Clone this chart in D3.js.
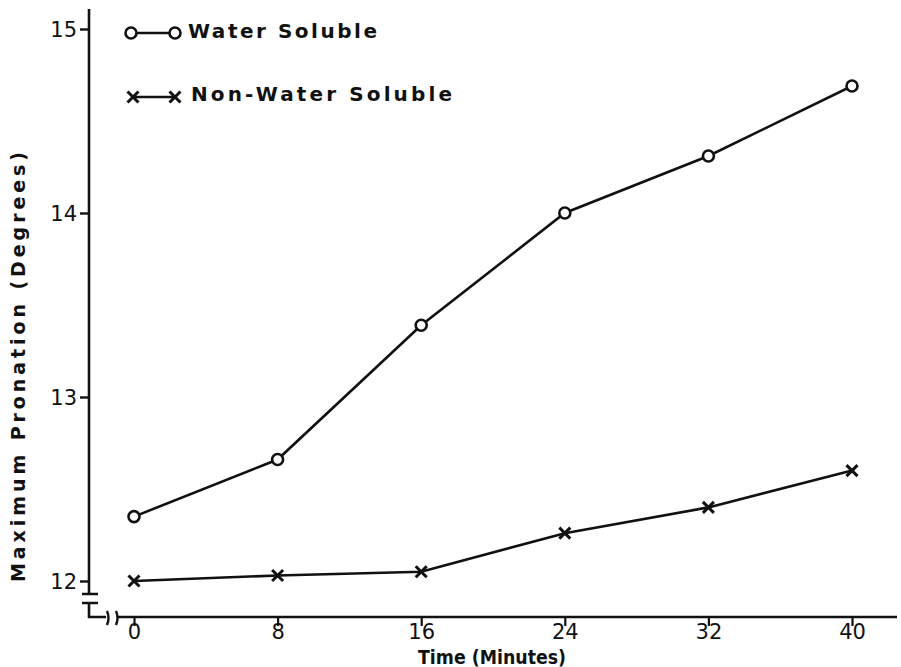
<!DOCTYPE html>
<html>
<head>
<meta charset="utf-8">
<script src="https://cdn.jsdelivr.net/npm/d3@7"></script>
<style>
body { margin: 0; background: #fff; }
svg text { font-family: "DejaVu Sans", Lato, sans-serif; font-weight: 700; fill: #111; }
svg .tick text { font-weight: 400; }
</style>
</head>
<body>
<div id="graphe"></div>
<script>
var temps = [0, 8, 16, 24, 32, 40];
var solubleEau = [12.35, 12.66, 13.39, 14.0, 14.31, 14.69];
var nonSolubleEau = [12.0, 12.03, 12.05, 12.26, 12.4, 12.6];
var ticksY = [12, 13, 14, 15];
var series = ["Water Soluble", "Non-Water Soluble"];

var largeur = 901, hauteur = 667;
var encre = "#111";

var svg = d3.select("#graphe").append("svg").attr("width", largeur).attr("height", hauteur);

var x = d3.scaleLinear().domain([0, 40]).range([134, 852]);
var y = d3.scaleLinear().domain([12, 15]).range([581, 29]);

var axeX = 89, baseY = 617;

// axe vertical avec coupure
svg.append("path")
    .attr("d", "M" + axeX + ",9 L" + axeX + ",594 M" + axeX + ",603 L" + axeX + "," + baseY + " L106," + baseY)
    .attr("fill", "none").attr("stroke", encre).attr("stroke-width", 2.6);
svg.append("path")
    .attr("d", "M82,594 L98,594 M82,603 L98,603")
    .attr("stroke", encre).attr("stroke-width", 2.4);
// coupure de l'axe horizontal
svg.append("path")
    .attr("d", "M107,611 Q110,618 107,625 M116,611 Q119,618 116,625")
    .attr("fill", "none").attr("stroke", encre).attr("stroke-width", 2.4);
svg.append("line")
    .attr("x1", 118).attr("x2", 897).attr("y1", baseY).attr("y2", baseY)
    .attr("stroke", encre).attr("stroke-width", 2.6);

// graduations
var gY = svg.append("g").attr("transform", "translate(" + axeX + ",0)")
    .call(d3.axisLeft(y).tickValues(ticksY).tickSize(9).tickPadding(3).tickFormat(d3.format("d")));
gY.select(".domain").remove();
gY.selectAll("line").attr("stroke", encre).attr("stroke-width", 2.4);
gY.selectAll("text").attr("font-size", 21).attr("fill", encre).attr("dy", "0.36em");

var gX = svg.append("g").attr("transform", "translate(0," + baseY + ")")
    .call(d3.axisBottom(x).tickValues(temps).tickSize(9).tickPadding(1).tickFormat(d3.format("d")));
gX.select(".domain").remove();
gX.selectAll("line").attr("stroke", encre).attr("stroke-width", 2.2);
gX.selectAll("text").attr("font-size", 21).attr("fill", encre).attr("dy", "0.55em");

// titres des axes
svg.append("text")
    .attr("transform", "translate(25,367) rotate(-90)")
    .attr("text-anchor", "middle").attr("font-size", 19)
    .attr("textLength", 430).attr("lengthAdjust", "spacing")
    .text("Maximum Pronation (Degrees)");
svg.append("text")
    .attr("x", 418).attr("y", 664).attr("font-size", 19)
    .attr("textLength", 148).attr("lengthAdjust", "spacingAndGlyphs")
    .text("Time (Minutes)");

// courbes
var ligne = d3.line().x(function(d, i) { return x(temps[i]); }).y(function(d) { return y(d); });

svg.append("path").datum(solubleEau).attr("d", ligne)
    .attr("fill", "none").attr("stroke", encre).attr("stroke-width", 2.6);
svg.append("path").datum(nonSolubleEau).attr("d", ligne)
    .attr("fill", "none").attr("stroke", encre).attr("stroke-width", 2.6);

function rond(g, cx, cy) {
    g.append("circle").attr("cx", cx).attr("cy", cy).attr("r", 5.5)
        .attr("fill", "#fff").attr("stroke", encre).attr("stroke-width", 2.6);
}
function croix(g, cx, cy) {
    var s = 5.5;
    g.append("path")
        .attr("d", "M" + (cx - s) + "," + (cy - s) + " L" + (cx + s) + "," + (cy + s) +
                   " M" + (cx - s) + "," + (cy + s) + " L" + (cx + s) + "," + (cy - s))
        .attr("stroke", encre).attr("stroke-width", 3);
}

solubleEau.forEach(function(v, i) { rond(svg, x(temps[i]), y(v)); });
nonSolubleEau.forEach(function(v, i) { croix(svg, x(temps[i]), y(v)); });

// légende
svg.append("line").attr("x1", 131).attr("x2", 175).attr("y1", 33).attr("y2", 33)
    .attr("stroke", encre).attr("stroke-width", 2.4);
rond(svg, 131, 33);
rond(svg, 175, 33);
svg.append("text").attr("x", 188).attr("y", 38).attr("font-size", 20)
    .attr("textLength", 189).attr("lengthAdjust", "spacing").text(series[0]);

svg.append("line").attr("x1", 133).attr("x2", 175).attr("y1", 97).attr("y2", 97)
    .attr("stroke", encre).attr("stroke-width", 2.4);
croix(svg, 133, 97);
croix(svg, 175, 97);
svg.append("text").attr("x", 191).attr("y", 101).attr("font-size", 20)
    .attr("textLength", 261).attr("lengthAdjust", "spacing").text(series[1]);
</script>
</body>
</html>
